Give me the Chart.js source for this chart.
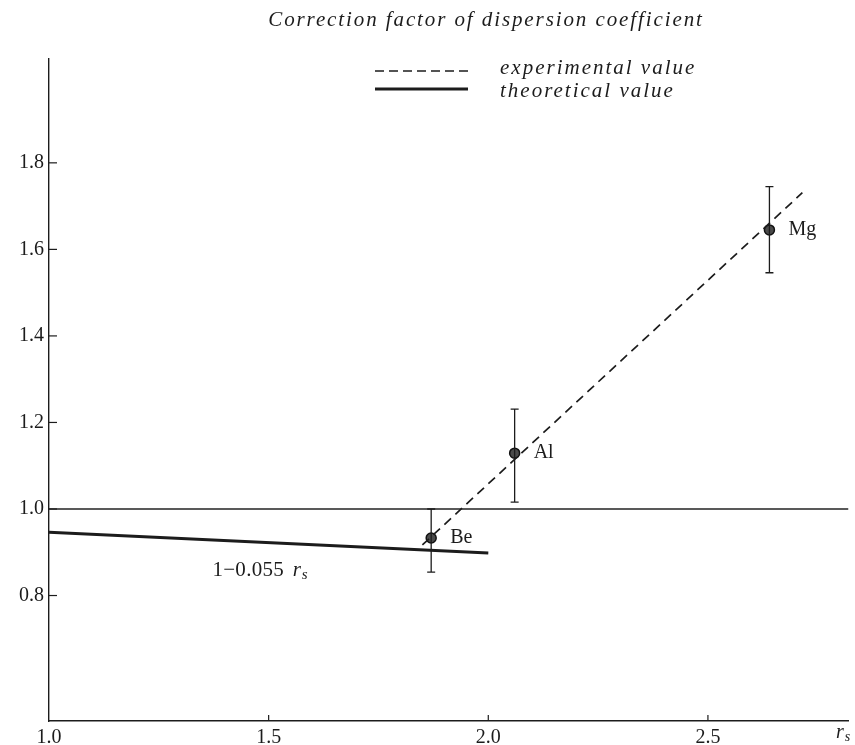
<!DOCTYPE html>
<html>
<head>
<meta charset="utf-8">
<script src="https://cdn.jsdelivr.net/npm/chart.js@4.4.1/dist/chart.umd.min.js"></script>
<style>
  body { margin: 0; background: #fff; }
  #wrap { width: 855px; height: 745px; }
</style>
</head>
<body>
<div id="wrap"><canvas id="chart" width="855" height="745"></canvas></div>
<script>
// values
const xTicks = [1.0, 1.5, 2.0, 2.5];
const yTicks = [0.8, 1.0, 1.2, 1.4, 1.6, 1.8];

const metals = ["Be", "Al", "Mg"];
const rsValues = [1.87, 2.06, 2.64];
const factorValues = [0.933, 1.129, 1.645];
const errLow = [0.854, 1.016, 1.546];
const errHigh = [1.0, 1.231, 1.745];

// dashed fit through the experimental points
const expLineRs = [1.85, 2.715];
const expLineFactor = [0.917, 1.731];

// theoretical 1 - 0.055 rs
const theoLineRs = [1.0, 2.0];
const theoLineFactor = [0.946, 0.898];

// reference line at 1.0
const refLineRs = [1.0, 2.82];
const refLineFactor = [1.0, 1.0];

const SERIF = "'Liberation Serif', 'DejaVu Serif', serif";
const INK = "#1c1c1c";

const toPts = (xs, ys) => xs.map((x, i) => ({ x: x, y: ys[i] }));

// draws "r" with subscript "s" in italics, returns end x
function drawRs(ctx, x, y, size) {
  ctx.font = "italic " + size + "px " + SERIF;
  ctx.fillText("r", x, y);
  const w = ctx.measureText("r").width;
  ctx.font = "italic " + Math.round(size * 0.72) + "px " + SERIF;
  ctx.fillText("s", x + w + 1, y + size * 0.22);
  return x + w + ctx.measureText("s").width;
}

const extras = {
  id: "extras",
  afterDraw(chart) {
    const ctx = chart.ctx;
    const xs = chart.scales.x, ys = chart.scales.y;
    const area = chart.chartArea;
    ctx.save();
    ctx.strokeStyle = INK;
    ctx.fillStyle = INK;

    // inward tick marks
    ctx.lineWidth = 1.2;
    ys.ticks.forEach(t => {
      const py = ys.getPixelForValue(t.value);
      ctx.beginPath(); ctx.moveTo(area.left, py); ctx.lineTo(area.left + 8, py); ctx.stroke();
    });
    xs.ticks.forEach(t => {
      const px = xs.getPixelForValue(t.value);
      if (t.value === xs.min) return;
      ctx.beginPath(); ctx.moveTo(px, area.bottom); ctx.lineTo(px, area.bottom - 6); ctx.stroke();
    });

    // error bars
    ctx.lineWidth = 1.3;
    rsValues.forEach((r, i) => {
      const px = xs.getPixelForValue(r);
      const lo = ys.getPixelForValue(errLow[i]);
      const hi = ys.getPixelForValue(errHigh[i]);
      ctx.beginPath();
      ctx.moveTo(px, lo); ctx.lineTo(px, hi);
      ctx.moveTo(px - 4, lo); ctx.lineTo(px + 4, lo);
      ctx.moveTo(px - 4, hi); ctx.lineTo(px + 4, hi);
      ctx.stroke();
    });

    // metal labels
    ctx.font = "20px " + SERIF;
    ctx.textBaseline = "middle";
    ctx.textAlign = "left";
    metals.forEach((m, i) => {
      const px = xs.getPixelForValue(rsValues[i]);
      const py = ys.getPixelForValue(factorValues[i]);
      ctx.fillText(m, px + 19, py);
    });

    // formula label under the theoretical line
    let fx = xs.getPixelForValue(1.372);
    const fy = ys.getPixelForValue(0.857);
    ctx.font = "21px " + SERIF;
    ctx.letterSpacing = "0.3px";
    ctx.fillText("1\u22120.055 ", fx, fy);
    fx += ctx.measureText("1\u22120.055 ").width + 3;
    ctx.letterSpacing = "0px";
    drawRs(ctx, fx, fy, 21);

    // axis title
    drawRs(ctx, 836, 733, 20);

    // title
    ctx.textAlign = "center";
    ctx.font = "italic 21px " + SERIF;
    ctx.letterSpacing = "1.9px";
    ctx.fillText("Correction factor of dispersion coefficient", 486, 20);

    // legend
    ctx.textAlign = "left";
    ctx.letterSpacing = "0px";
    ctx.lineWidth = 1.6;
    ctx.setLineDash([9, 5]);
    ctx.beginPath(); ctx.moveTo(375, 71); ctx.lineTo(468, 71); ctx.stroke();
    ctx.setLineDash([]);
    ctx.lineWidth = 3;
    ctx.beginPath(); ctx.moveTo(375, 89); ctx.lineTo(468, 89); ctx.stroke();
    ctx.font = "italic 21px " + SERIF;
    ctx.letterSpacing = "2px";
    ctx.fillText("experimental value", 500, 68);
    ctx.fillText("theoretical value", 500, 91);
    ctx.restore();
  }
};

new Chart(document.getElementById("chart"), {
  type: "scatter",
  data: {
    datasets: [
      {
        data: toPts(refLineRs, refLineFactor),
        showLine: true, borderColor: "#222", borderWidth: 1.3, pointRadius: 0
      },
      {
        data: toPts(theoLineRs, theoLineFactor),
        showLine: true, borderColor: INK, borderWidth: 3, pointRadius: 0
      },
      {
        data: toPts(expLineRs, expLineFactor),
        showLine: true, borderColor: INK, borderWidth: 1.7, borderDash: [9, 6], pointRadius: 0
      },
      {
        data: toPts(rsValues, factorValues),
        showLine: false, pointRadius: 5, pointBackgroundColor: "#4a4a4a",
        pointBorderColor: "#111", pointBorderWidth: 1.5
      }
    ]
  },
  options: {
    responsive: false,
    animation: false,
    layout: { padding: { top: 59, right: 0, left: 0, bottom: 0 } },
    plugins: { legend: { display: false }, tooltip: { enabled: false }, title: { display: false } },
    scales: {
      x: {
        type: "linear", min: 1.0, max: 2.82,
        afterBuildTicks: s => { s.ticks = xTicks.map(v => ({ value: v })); },
        afterFit: s => { s.height = 24; },
        grid: { display: false, drawTicks: false },
        border: { display: true, color: INK, width: 1.4 },
        ticks: {
          padding: 5, color: INK, font: { family: SERIF, size: 20 },
          maxRotation: 0, callback: v => Number(v).toFixed(1)
        }
      },
      y: {
        type: "linear", min: 0.51, max: 2.04,
        afterBuildTicks: s => { s.ticks = yTicks.map(v => ({ value: v })); },
        afterFit: s => { s.width = 49; },
        grid: { display: false, drawTicks: false },
        border: { display: true, color: INK, width: 1.4 },
        ticks: {
          padding: 5, color: INK, font: { family: SERIF, size: 20 },
          callback: v => Number(v).toFixed(1)
        }
      }
    }
  },
  plugins: [extras]
});
</script>
</body>
</html>
